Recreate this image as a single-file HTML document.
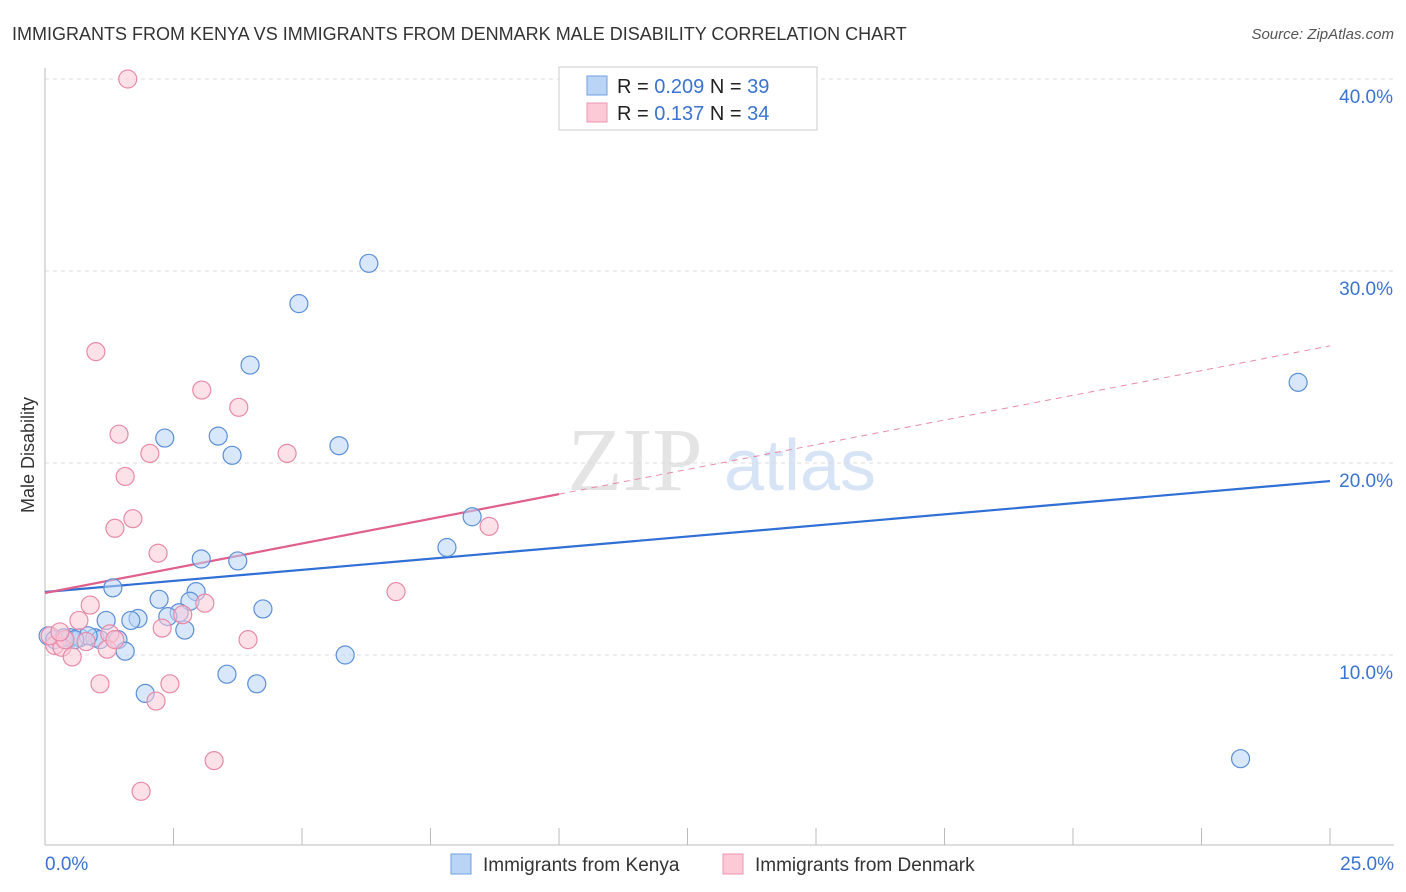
<!DOCTYPE html>
<html><head><meta charset="utf-8"><style>
body{margin:0;background:#fff;font-family:"Liberation Sans",sans-serif;}
svg{display:block}
</style></head><body>
<svg id="chart" width="1406" height="892" xmlns="http://www.w3.org/2000/svg">
<text x="12" y="40" font-size="18" fill="#333">IMMIGRANTS FROM KENYA VS IMMIGRANTS FROM DENMARK MALE DISABILITY CORRELATION CHART</text>
<text x="1394" y="39" font-size="15" fill="#555" font-style="italic" text-anchor="end">Source: ZipAtlas.com</text>
<text x="34" y="455" font-size="18" fill="#333" text-anchor="middle" transform="rotate(-90 34 455)">Male Disability</text>
<g><text x="635" y="490" font-size="90" fill="#e4e4e4" font-family="Liberation Serif,serif" text-anchor="middle">ZIP</text><text x="800" y="490" font-size="72" fill="#d6e4f5" text-anchor="middle">atlas</text></g>
<g id="grid"></g><g id="axes"></g><g id="trends"></g><g id="points"></g>
<g>
<rect x="559" y="67" width="258" height="63" fill="#fff" stroke="#ccc"/>
<rect x="587" y="76" width="20" height="19" fill="#b9d4f5" stroke="#6f9fe0"/>
<rect x="587" y="103" width="20" height="19" fill="#fcc9d7" stroke="#ee94b0"/>
<text x="617" y="93" font-size="20" fill="#222">R = <tspan fill="#3a73d0">0.209</tspan>   N = <tspan fill="#3a73d0">39</tspan></text>
<text x="617" y="120" font-size="20" fill="#222">R =  <tspan fill="#3a73d0">0.137</tspan>   N = <tspan fill="#3a73d0">34</tspan></text>
</g>
<g>
<rect x="451" y="854" width="20" height="20" fill="#b9d4f5" stroke="#6f9fe0"/>
<text x="483" y="871" font-size="19" fill="#333">Immigrants from Kenya</text>
<rect x="723" y="854" width="20" height="20" fill="#fcc9d7" stroke="#ee94b0"/>
<text x="755" y="871" font-size="19" fill="#333">Immigrants from Denmark</text>
</g>
</svg>
<script>
const xTicks=[0,2.5,5,7.5,10,12.5,15,17.5,20,22.5,25];
const yTicks=[10,20,30,40];
const kenyaX=[6.3,4.94,3.99,2.33,3.37,3.64,5.72,24.38,8.31,7.82,3.04,3.75,1.32,2.94,2.22,2.82,2.61,4.24,1.81,1.67,1.19,2.39,2.72,0.06,0.19,0.49,0.68,0.97,1.07,1.42,0.84,1.56,3.54,4.12,1.95,5.84,23.26,0.37,0.58];
const kenyaY=[30.4,28.3,25.1,21.3,21.4,20.4,20.9,24.2,17.2,15.6,15.0,14.9,13.5,13.3,12.9,12.8,12.2,12.4,11.9,11.8,11.8,12.0,11.3,11.0,10.8,10.9,10.9,10.9,10.8,10.8,11.0,10.2,9.0,8.5,8.0,10.0,4.6,10.9,10.8];
const denX=[1.61,0.99,3.05,3.77,1.44,2.04,4.71,1.56,1.71,1.36,8.64,2.2,6.83,0.88,3.11,2.68,0.66,2.28,1.26,3.95,0.8,0.19,0.33,1.21,0.53,1.07,2.43,2.16,3.29,1.87,0.1,0.39,0.29,1.36];
const denY=[40.0,25.8,23.8,22.9,21.5,20.5,20.5,19.3,17.1,16.6,16.7,15.3,13.3,12.6,12.7,12.1,11.8,11.4,11.1,10.8,10.7,10.5,10.4,10.3,9.9,8.5,8.5,7.6,4.5,2.9,11.0,10.8,11.2,10.8];
const kenyaTrend=[13.28,19.06];
const denTrend=[13.23,26.1];
const X=v=>45+v*51.4, Y=v=>847-v*19.2;
const NS='http://www.w3.org/2000/svg';
function mk(t,a,p){const e=document.createElementNS(NS,t);for(const k in a)e.setAttribute(k,a[k]);p.appendChild(e);return e;}
const grid=document.getElementById('grid'),axes=document.getElementById('axes'),tr=document.getElementById('trends'),pts=document.getElementById('points');
yTicks.forEach(v=>{
 const l=mk('line',{x1:45,x2:1394,y1:Y(v),y2:Y(v),stroke:'#ddd','stroke-dasharray':'4,4'},grid);
 
 
 const t=mk('text',{x:1393,y:Y(v)+24,'font-size':19,fill:'#3a73d0','text-anchor':'end'},axes);t.textContent=v.toFixed(1)+'%';
 
 
});
const ax=mk('line',{x1:45,x2:45,y1:68,y2:845,stroke:'#bbb'},axes);


const bx=mk('line',{x1:45,x2:1394,y1:845,y2:845,stroke:'#bbb'},axes);


xTicks.forEach(v=>{const l=mk('line',{x1:X(v),x2:X(v),y1:828,y2:845,stroke:'#bbb'},axes);
 
 });
[[0,'start',45],[25,'end',1394]].forEach(([v,a,x])=>{const t=mk('text',{x:x,y:870,'font-size':19,fill:'#3a73d0','text-anchor':a},axes);t.textContent=v.toFixed(1)+'%';
 
 });
function dot(x,y,fill,stroke){const c=mk('circle',{cx:X(x),cy:Y(y),r:9,fill:fill,'fill-opacity':0.55,stroke:stroke,'stroke-width':1.2},pts);return c;}
kenyaX.forEach((x,i)=>{const c=dot(x,kenyaY[i],'#b9d4f5','#5b8fd8');
 
 });
denX.forEach((x,i)=>{const c=dot(x,denY[i],'#fcc9d7','#e88aa8');
 
 });
const kt=mk('line',{x1:X(0),y1:Y(kenyaTrend[0]),x2:X(25),y2:Y(kenyaTrend[1]),stroke:'#2f6fd6','stroke-width':2.2},tr);


const dAt=v=>denTrend[0]+(denTrend[1]-denTrend[0])*v/25;
const ds=mk('line',{x1:X(0),y1:Y(dAt(0)),x2:X(10),y2:Y(dAt(10)),stroke:'#e0608b','stroke-width':2.2},tr);


const dd=mk('line',{x1:X(10),y1:Y(dAt(10)),x2:X(25),y2:Y(dAt(25)),stroke:'#e88aa8','stroke-width':1,'stroke-dasharray':'6,5'},tr);


</script>
</body></html>
